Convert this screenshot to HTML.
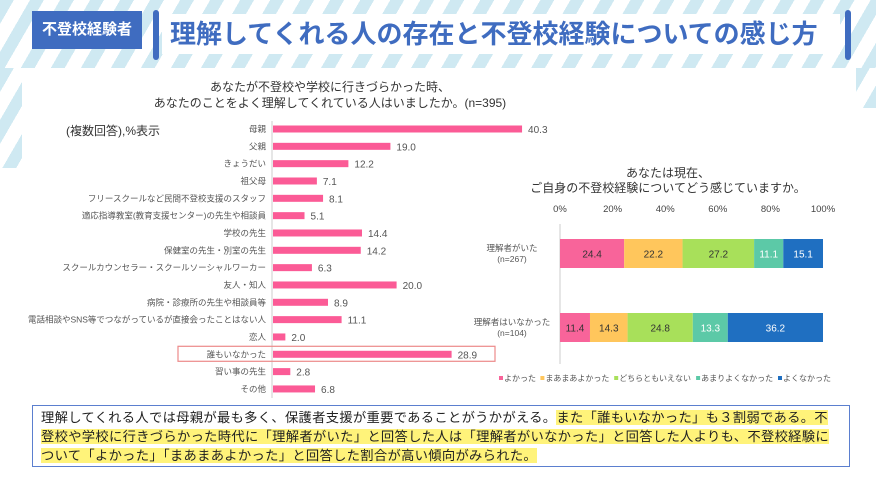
<!DOCTYPE html>
<html><head><meta charset="utf-8">
<style>
body{margin:0;width:876px;height:490px;overflow:hidden;background:#fff;font-family:"Liberation Sans","Noto Sans CJK JP",sans-serif;position:relative}
.abs{position:absolute}
.stripes{background:repeating-linear-gradient(120deg,#cfe9f2 0 12px,#fff 12px 26px)}
.hl{background:#fff37a}
</style></head><body>
<div class="abs stripes" style="left:0;top:0;width:876px;height:68px"></div>
<div class="abs stripes" style="left:0;top:68px;width:22px;height:100px"></div>
<div class="abs stripes" style="left:856px;top:68px;width:20px;height:40px"></div>
<div class="abs" style="left:32px;top:11px;width:110px;height:38px;background:#3f6cc0;color:#fff;font-size:15px;font-weight:bold;line-height:38px;text-align:center">不登校経験者</div>
<div class="abs" style="left:153px;top:10px;width:6px;height:50px;background:#3f6cc0;border-radius:3px"></div>
<div class="abs" style="left:845px;top:10px;width:6px;height:50px;background:#3f6cc0;border-radius:3px"></div>
<div class="abs" style="left:162px;top:14px;width:678px;height:40px;background:#fff"></div>
<div class="abs" style="left:170px;top:14px;color:#3f6cc0;font-size:26px;font-weight:bold;line-height:40px;white-space:nowrap">理解してくれる人の存在と不登校経験についての感じ方</div>

<div class="abs" style="left:150px;top:79px;width:360px;text-align:center;font-size:12px;line-height:16px;color:#333">あなたが不登校や学校に行きづらかった時、<br>あなたのことをよく理解してくれている人はいましたか。(n=395)</div>
<div class="abs" style="left:66px;top:122px;font-size:12px;color:#333">(複数回答),%表示</div>

<div class="abs" style="left:500px;top:166px;width:336px;text-align:center;font-size:12px;line-height:15px;color:#333">あなたは現在、<br>ご自身の不登校経験についてどう感じていますか。</div>

<svg class="abs" style="left:0;top:0" width="876" height="490" id="svg"></svg>

<div class="abs" style="left:32px;top:405px;width:818px;height:62px;border:1.5px solid #5b7fcf;padding:2px 8px;box-sizing:border-box;font-size:13.3px;letter-spacing:0.3px;line-height:19px;color:#222">理解してくれる人では母親が最も多く、保護者支援が重要であることがうかがえる。<span class="hl">また「誰もいなかった」も３割弱である。不登校や学校に行きづらかった時代に「理解者がいた」と回答した人は「理解者がいなかった」と回答した人よりも、不登校経験について「よかった」「まあまあよかった」と回答した割合が高い傾向がみられた。</span></div>

<script>
const cats=["母親","父親","きょうだい","祖父母","フリースクールなど民間不登校支援のスタッフ","適応指導教室(教育支援センター)の先生や相談員","学校の先生","保健室の先生・別室の先生","スクールカウンセラー・スクールソーシャルワーカー","友人・知人","病院・診療所の先生や相談員等","電話相談やSNS等でつながっているが直接会ったことはない人","恋人","誰もいなかった","習い事の先生","その他"];
const vals=[40.3,19.0,12.2,7.1,8.1,5.1,14.4,14.2,6.3,20.0,8.9,11.1,2.0,28.9,2.8,6.8];
const groups=["理解者がいた","理解者はいなかった"];
const groupN=["(n=267)","(n=104)"];
const seriesNames=["よかった","まあまあよかった","どちらともいえない","あまりよくなかった","よくなかった"];
const s1=[24.4,11.4],s2=[22.2,14.3],s3=[27.2,24.8],s4=[11.1,13.3],s5=[15.1,36.2];
const ticks=[0,20,40,60,80,100];
const colors=["#f8649a","#ffc65c","#a8e05a","#5cc9a7","#1f6fc1"];
const NS="http://www.w3.org/2000/svg",svg=document.getElementById("svg");
function el(t,a,txt){const e=document.createElementNS(NS,t);for(const k in a)e.setAttribute(k,a[k]);if(txt!=null)e.textContent=txt;svg.appendChild(e);return e;}
const x0=272,xs=v=>x0+v*6.18,yL=i=>129+i*17.33;
let ax=el("line",{x1:x0,x2:x0,y1:121,y2:398,stroke:"#ccc"});

cats.forEach((c,i)=>{
 const y=yL(i);
 const r=el("rect",{x:x0+1,y:y-3.5,width:xs(vals[i])-x0,height:7,fill:"#fb5b96"});
 
 const l=el("text",{x:266,y:y+3,"text-anchor":"end","font-size":8.5,fill:"#555"},c);
 
 const v=el("text",{x:xs(vals[i])+7,y:y+4,"font-size":10,fill:"#555"},vals[i].toFixed(1));
 
 if(c==="誰もいなかった"){const h=el("rect",{x:178,y:y-8,width:317,height:15,fill:"none",stroke:"#ec8a8a","stroke-width":1.2});
 }
});
const rx0=560,rxs=p=>rx0+p*2.63,gy=[239,313],bh=29;
ticks.forEach(t=>{const e=el("text",{x:rxs(t),y:212,"text-anchor":"middle","font-size":9.5,fill:"#444"},t+"%");
 });
const ra=el("line",{x1:rx0,x2:rx0,y1:224,y2:364,stroke:"#ccc"});

const S=[s1,s2,s3,s4,s5];
groups.forEach((g,gi)=>{
 let acc=0;const tot=S.reduce((a,s)=>a+s[gi],0);
 S.forEach((s,si)=>{const w=s[gi]/tot*100;
  const r=el("rect",{x:rxs(acc),y:gy[gi],width:rxs(acc+w)-rxs(acc),height:bh,fill:colors[si]});
  
  const t=el("text",{x:rxs(acc+w/2),y:gy[gi]+bh/2+4,"text-anchor":"middle","font-size":10,fill:si>=3?"#fff":"#333"},s[gi].toFixed(1));
  
  acc+=w;});
 const a=el("text",{x:512,y:gy[gi]+12,"text-anchor":"middle","font-size":8.5,fill:"#555"},g);
 
 const b=el("text",{x:512,y:gy[gi]+23,"text-anchor":"middle","font-size":8.5,fill:"#555"},groupN[gi]);
 
});
let lx=499;
seriesNames.forEach((n,i)=>{
 const r=el("rect",{x:lx,y:376,width:4,height:4,fill:colors[i]});
 
 const t=el("text",{x:lx+5,y:381,"font-size":8,fill:"#555"},n);
 
 lx+=9+n.length*8.1;
});
</script>
</body></html>
